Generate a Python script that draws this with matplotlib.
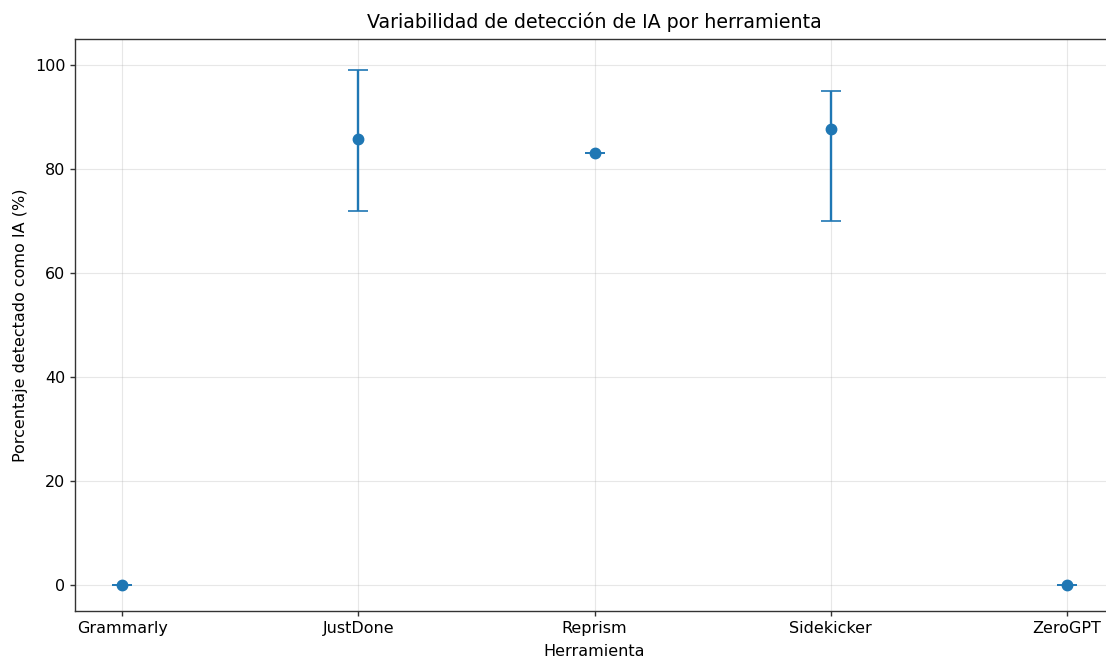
import matplotlib
matplotlib.use("Agg")
import matplotlib.pyplot as plt
import numpy as np

herramientas = ["Grammarly", "JustDone", "Reprism", "Sidekicker", "ZeroGPT"]
media = [0.0, 85.7, 83.0, 87.7, 0.0]
minimo = [0.0, 72.0, 83.0, 70.0, 0.0]
maximo = [0.0, 99.0, 83.0, 95.0, 0.0]

fig = plt.figure(figsize=(11.06, 6.58), dpi=100)
ax = fig.add_axes([75/1106, 1 - 611/658, (1114-75)/1106, (611-39)/658])

x = np.arange(len(herramientas))
err_low = np.array(media) - np.array(minimo)
err_high = np.array(maximo) - np.array(media)
ax.errorbar(x, media, yerr=[err_low, err_high], fmt="o", color="#1f77b4",
            capsize=7, elinewidth=1.7, capthick=1.2, markersize=7.5)

ax.set_xticks(x)
ax.set_xticklabels(herramientas, fontsize=11.5)
ax.tick_params(axis="y", labelsize=11.5)
ax.tick_params(color="#333333", width=1.0)
for s in ax.spines.values():
    s.set_color("#333333")
    s.set_linewidth(1.0)
ax.set_xlim(-0.2, 4.2)
ax.set_ylim(-5, 105)
ax.grid(True, alpha=0.3)
ax.set_xlabel("Herramienta", fontsize=11.5, labelpad=6)
ax.set_ylabel("Porcentaje detectado como IA (%)", fontsize=11.5, labelpad=5)
ax.set_title("Variabilidad de detección de IA por herramienta", fontsize=13.7, pad=8)

fig.savefig("out.png", dpi=100)
